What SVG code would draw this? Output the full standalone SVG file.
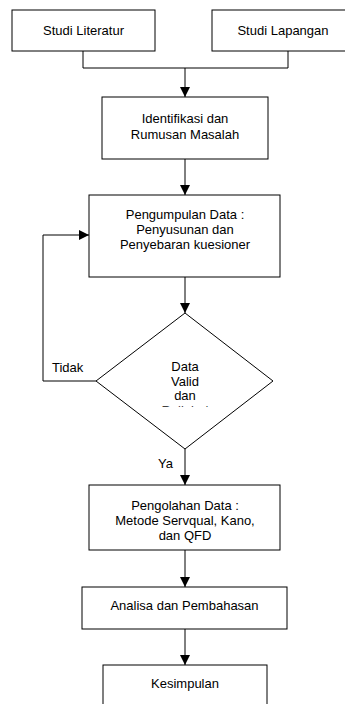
<svg xmlns="http://www.w3.org/2000/svg" width="345" height="704" viewBox="0 0 345 704">
<style>
.box{fill:#fff;stroke:#000;stroke-width:1}
.ln{fill:none;stroke:#000;stroke-width:1}
text{font-family:"Liberation Sans",Arial,sans-serif;font-size:13px;fill:#000}
.c{text-anchor:middle}
</style>
<defs>
<marker id="ah" viewBox="0 0 10 10" refX="10" refY="5" markerWidth="10" markerHeight="10" markerUnits="userSpaceOnUse" orient="auto">
<path d="M0,0 L10,5 L0,10 Z" fill="#000"/>
</marker>
<clipPath id="dclip"><rect x="100" y="300" width="170" height="106.8"/></clipPath>
</defs>
<g id="connectors">
<path class="ln" d="M83,51 V68 H288 V51"/>
<path class="ln" d="M185,68 V97" marker-end="url(#ah)"/>
<path class="ln" d="M185,159 V195" marker-end="url(#ah)"/>
<path class="ln" d="M185,277 V313" marker-end="url(#ah)"/>
<path class="ln" d="M96,381 H43 V235 H89" marker-end="url(#ah)"/>
<path class="ln" d="M185,449 V485" marker-end="url(#ah)"/>
<path class="ln" d="M185,550 V587" marker-end="url(#ah)"/>
<path class="ln" d="M185,629 V665" marker-end="url(#ah)"/>
<text x="52" y="371.5">Tidak</text>
<text x="158" y="467.5">Ya</text>
</g>
<g id="studi-literatur">
<rect class="box" x="12" y="10" width="143" height="41"/>
<text class="c" x="83.5" y="35">Studi Literatur</text>
</g>
<g id="studi-lapangan">
<rect class="box" x="212" y="10" width="142" height="41"/>
<text class="c" x="283" y="35">Studi Lapangan</text>
</g>
<g id="identifikasi">
<rect class="box" x="102" y="97" width="166" height="62"/>
<text class="c" x="185" y="122.5">Identifikasi dan</text>
<text class="c" x="185" y="138.5">Rumusan Masalah</text>
</g>
<g id="pengumpulan">
<rect class="box" x="89" y="195" width="191" height="82"/>
<text class="c" x="185" y="218.5">Pengumpulan  Data :</text>
<text class="c" x="185" y="233.5">Penyusunan dan</text>
<text class="c" x="185" y="248.5">Penyebaran kuesioner</text>
</g>
<g id="keputusan">
<path class="box" d="M185,313 L273,381 L185,449 L96,381 Z"/>
<text class="c" x="185" y="371">Data</text>
<text class="c" x="185" y="385.5">Valid</text>
<text class="c" x="185" y="400">dan</text>
<text class="c" x="185" y="414.5" clip-path="url(#dclip)">Reliabel</text>
</g>
<g id="pengolahan">
<rect class="box" x="89" y="485" width="191" height="65"/>
<text class="c" x="185" y="509.5">Pengolahan  Data :</text>
<text class="c" x="185" y="524.5">Metode Servqual, Kano,</text>
<text class="c" x="185" y="539.5">dan QFD</text>
</g>
<g id="analisa">
<rect class="box" x="82" y="587" width="205" height="42"/>
<text class="c" x="184.5" y="609.5">Analisa dan Pembahasan</text>
</g>
<g id="kesimpulan">
<rect class="box" x="103" y="665" width="164" height="45"/>
<text class="c" x="185" y="687.5">Kesimpulan</text>
</g>
</svg>
